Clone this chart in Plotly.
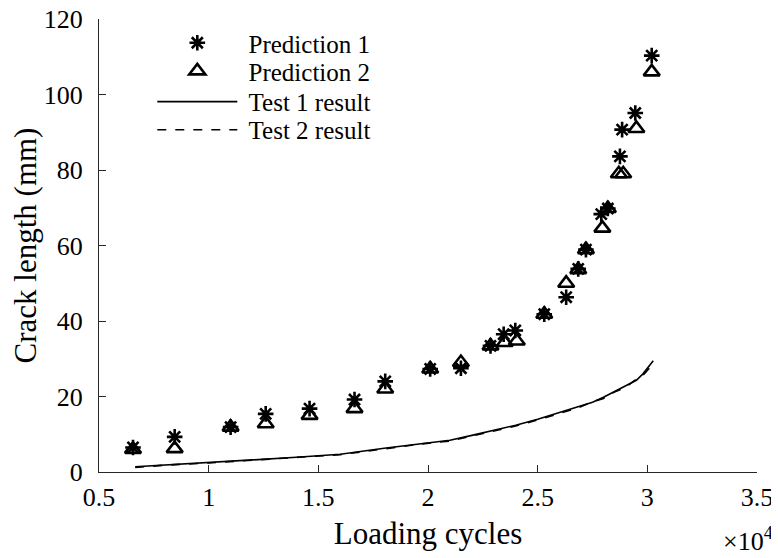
import plotly.graph_objects as go

# Data (loading cycles in raw units; axis shows x10^4)
pred1_x = [6550, 8450, 11000, 12600, 14600, 16650, 18050, 20100, 21500, 22850, 23450,
           23980, 25300, 26300, 26850, 27200, 27900, 28200, 28750, 28850, 29450, 30200]
pred1_y = [6.5, 9.3, 11.9, 15.4, 16.8, 19.2, 24.0, 27.3, 27.5, 33.4, 36.5,
           37.5, 41.8, 46.3, 53.8, 58.9, 68.3, 69.8, 83.6, 90.7, 95.1, 110.3]

pred2_x = [6550, 8450, 11000, 12600, 14600, 16650, 18050, 20100, 21500, 22850, 23500,
           24050, 25300, 26300, 26850, 27200, 27950, 28200, 28700, 28900, 29500, 30200]
pred2_y = [6.0, 6.2, 11.9, 12.8, 15.0, 16.8, 22.0, 27.3, 29.0, 33.4, 34.3,
           34.7, 41.8, 50.0, 53.6, 58.9, 64.6, 69.8, 79.0, 79.0, 91.0, 106.0]

test1_x = [6650, 8000, 10000, 12000, 14000, 16000, 18000, 19500, 21000, 22000, 23000,
           24000, 25000, 26000, 26800, 27500, 28000, 28500, 29000, 29500, 29800, 30270]
test1_y = [1.4, 1.9, 2.5, 3.2, 3.9, 4.7, 6.3, 7.4, 8.4, 9.7, 11.0,
           12.4, 14.0, 15.8, 17.2, 18.5, 19.8, 21.3, 22.8, 24.3, 26.0, 29.5]

test2_x = [6650, 8000, 10000, 12000, 14000, 16000, 18000, 19500, 21000, 22000, 23000,
           24000, 25000, 26000, 26800, 27500, 28000, 28500, 29000, 29500, 29800, 30200]
test2_y = [1.2, 1.8, 2.4, 3.1, 3.8, 4.6, 6.1, 7.3, 8.2, 9.5, 10.8,
           12.2, 13.8, 15.6, 16.9, 18.6, 19.5, 21.2, 22.4, 24.6, 25.6, 28.2]

x_tickvals = [5000, 10000, 15000, 20000, 25000, 30000, 35000]
x_ticktext = ["0.5", "1", "1.5", "2", "2.5", "3", "3.5"]
y_tickvals = [0, 20, 40, 60, 80, 100, 120]

FONT = "Liberation Serif"
AXC = "#262626"
LEG_FONT = dict(family=FONT, size=25, color="black")
PAD = "\u00a0"

fig = go.Figure()
fig.add_trace(go.Scatter(x=pred1_x, y=pred1_y, mode="markers", name=PAD + "Prediction 1",
                         legend="legend",
                         marker=dict(symbol="asterisk-open", size=13, color="black",
                                     line=dict(width=2.6, color="black"))))
fig.add_trace(go.Scatter(x=pred2_x, y=pred2_y, mode="markers", name=PAD + "Prediction 2",
                         legend="legend2",
                         marker=dict(symbol="triangle-up-open", size=14, color="black",
                                     line=dict(width=2.6, color="black"))))
fig.add_trace(go.Scatter(x=test1_x, y=test1_y, mode="lines", name=PAD + "Test 1 result",
                         legend="legend3",
                         line=dict(color="black", width=1.6)))
fig.add_trace(go.Scatter(x=test2_x, y=test2_y, mode="lines", name=PAD + "Test 2 result",
                         legend="legend4",
                         line=dict(color="black", width=1.6, dash="dash")))

def leg(yc):
    return dict(x=0.081, y=yc, xanchor="left", yanchor="middle",
                bgcolor="rgba(0,0,0,0)", itemwidth=80, font=LEG_FONT)

# page body has an 8px margin: plot area placed at screen x 99-757, y 19-472
fig.update_layout(
    width=779, height=558,
    margin=dict(l=91, r=30, t=11, b=94),
    paper_bgcolor="white", plot_bgcolor="white",
    font=dict(family=FONT, size=26, color="black"),
    showlegend=True,
    legend=leg(0.947), legend2=leg(0.885), legend3=leg(0.817), legend4=leg(0.755),
    xaxis=dict(range=[5000, 35000], tickvals=x_tickvals, ticktext=x_ticktext,
               automargin=False, ticklabeloverflow="allow",
               showgrid=False, zeroline=False, showline=True, linecolor=AXC, linewidth=1,
               ticks="inside", ticklen=7, tickcolor=AXC, ticklabelstandoff=2,
               tickfont=dict(family=FONT, size=26, color="black"),
               title=dict(text="Loading cycles", font=dict(family=FONT, size=31, color="black"),
                          standoff=11)),
    yaxis=dict(range=[0, 120], tickvals=y_tickvals,
               automargin=False, ticklabeloverflow="allow",
               showgrid=False, zeroline=False, showline=True, linecolor=AXC, linewidth=1,
               ticks="inside", ticklen=7, tickcolor=AXC, ticklabelstandoff=10,
               tickfont=dict(family=FONT, size=26, color="black"),
               title=dict(text="Crack length (mm)", font=dict(family=FONT, size=31, color="black"),
                          standoff=6)),
)

fig.add_annotation(text="×10<sup>4</sup>", xref="paper", yref="paper", x=1.027, y=-0.108,
                   xanchor="right", yanchor="top", showarrow=False,
                   font=dict(family=FONT, size=26, color="black"))

fig.write_html("out.html")
